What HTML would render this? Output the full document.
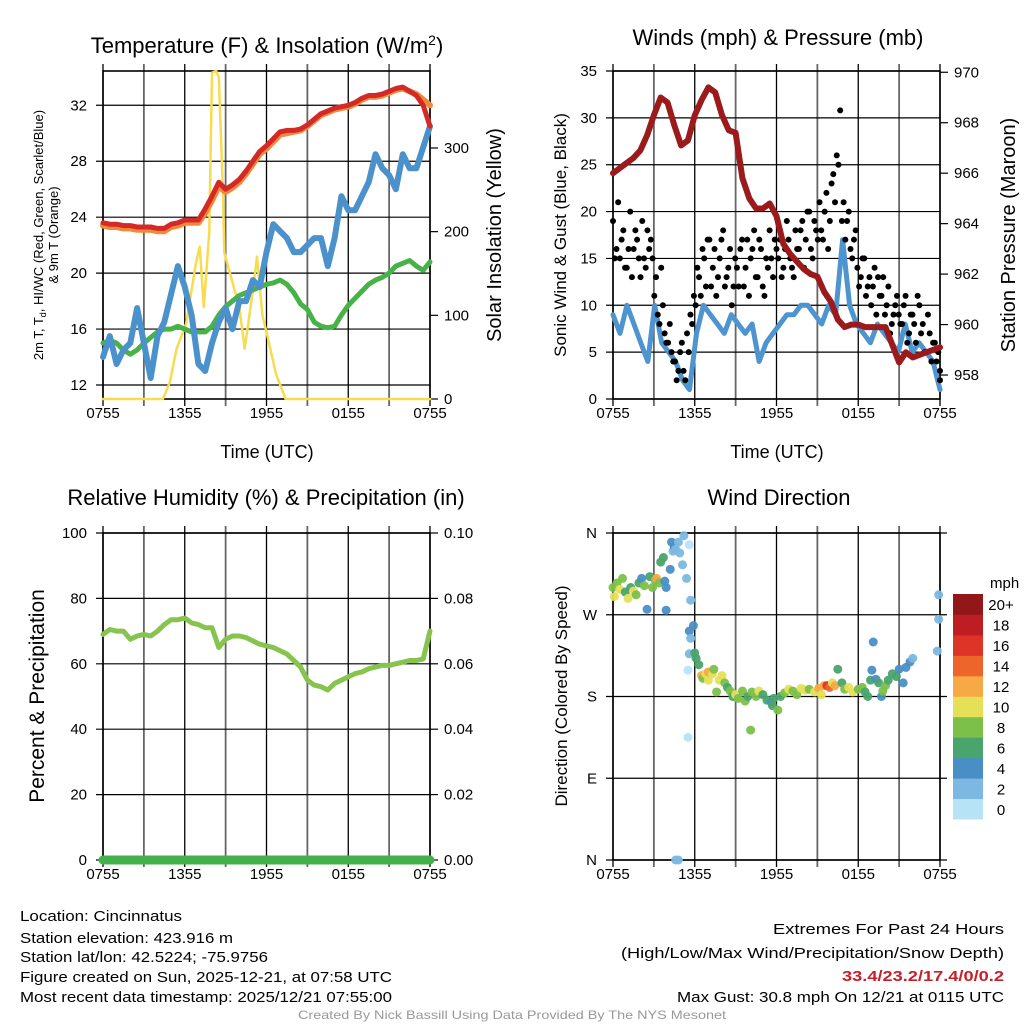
<!DOCTYPE html>
<html><head><meta charset="utf-8">
<style>
html,body{margin:0;padding:0;background:#fff;}
svg{display:block;font-family:"Liberation Sans",sans-serif;}
</style></head>
<body>
<svg id="fig" width="1024" height="1024" viewBox="0 0 1024 1024" xmlns="http://www.w3.org/2000/svg">
<rect width="1024" height="1024" fill="#fff"/>
<g id="layer"></g>
<text x="267" y="53" font-size="22" text-anchor="middle">Temperature (F) &amp; Insolation (W/m<tspan dy="-8" font-size="14">2</tspan><tspan dy="8">)</tspan></text>
<text x="778" y="45" font-size="22" text-anchor="middle">Winds (mph) &amp; Pressure (mb)</text>
<text x="266" y="505" font-size="22" text-anchor="middle">Relative Humidity (%) &amp; Precipitation (in)</text>
<text x="779" y="505" font-size="22" text-anchor="middle">Wind Direction</text>

<text transform="translate(43,235) rotate(-90)" font-size="13" text-anchor="middle">2m T, T<tspan font-size="9" dy="3">d</tspan><tspan dy="-3">, HI/WC (Red, Green, Scarlet/Blue)</tspan></text>
<text transform="translate(58,235) rotate(-90)" font-size="13" text-anchor="middle">&amp; 9m T (Orange)</text>
<text transform="translate(501,235) rotate(-90)" font-size="20" text-anchor="middle">Solar Insolation (Yellow)</text>
<text x="267" y="458" font-size="18" text-anchor="middle">Time (UTC)</text>
<text x="777" y="458" font-size="18" text-anchor="middle">Time (UTC)</text>
<text transform="translate(566,235) rotate(-90)" font-size="17" text-anchor="middle">Sonic Wind &amp; Gust (Blue, Black)</text>
<text transform="translate(1015,235) rotate(-90)" font-size="20" text-anchor="middle">Station Pressure (Maroon)</text>
<text transform="translate(44,696) rotate(-90)" font-size="21" text-anchor="middle">Percent &amp; Precipitation</text>
<text transform="translate(567,696) rotate(-90)" font-size="17" text-anchor="middle">Direction (Colored By Speed)</text>
<text x="990" y="588" font-size="15">mph</text>

<g font-size="15">
<text x="20" y="921" textLength="162" lengthAdjust="spacingAndGlyphs">Location: Cincinnatus</text>
<text x="20" y="943" textLength="213" lengthAdjust="spacingAndGlyphs">Station elevation: 423.916 m</text>
<text x="20" y="962" textLength="248" lengthAdjust="spacingAndGlyphs">Station lat/lon: 42.5224; -75.9756</text>
<text x="20" y="982" textLength="372" lengthAdjust="spacingAndGlyphs">Figure created on Sun, 2025-12-21, at 07:58 UTC</text>
<text x="20" y="1002" textLength="372" lengthAdjust="spacingAndGlyphs">Most recent data timestamp: 2025/12/21 07:55:00</text>
</g>
<g font-size="15" text-anchor="end">
<text x="1004" y="934" textLength="231" lengthAdjust="spacingAndGlyphs">Extremes For Past 24 Hours</text>
<text x="1004" y="958" textLength="383" lengthAdjust="spacingAndGlyphs">(High/Low/Max Wind/Precipitation/Snow Depth)</text>
<text x="1004" y="981" fill="#c8202a" font-weight="bold" textLength="162" lengthAdjust="spacingAndGlyphs">33.4/23.2/17.4/0/0.2</text>
<text x="1004" y="1002" textLength="327" lengthAdjust="spacingAndGlyphs">Max Gust: 30.8 mph On 12/21 at 0115 UTC</text>
</g>
<text x="512" y="1019" font-size="12" fill="#999" text-anchor="middle" textLength="428" lengthAdjust="spacingAndGlyphs">Created By Nick Bassill Using Data Provided By The NYS Mesonet</text>
</svg>
<script>
// ---- data (half-hour steps, 0..24 h from 0755 UTC) ----
const timeLabels = ["0755","1355","1955","0155","0755"];
const tempT = [23.6,23.5,23.5,23.4,23.4,23.3,23.3,23.3,23.2,23.2,23.5,23.6,23.8,23.8,23.8,24.6,25.5,26.5,26.0,26.3,26.7,27.3,28.0,28.7,29.1,29.6,30.1,30.2,30.2,30.3,30.6,31.0,31.4,31.6,31.8,31.9,32.0,32.2,32.5,32.7,32.7,32.8,33.0,33.2,33.3,33.0,32.7,32.0,30.5];
const temp9m = [23.4,23.3,23.3,23.2,23.2,23.1,23.1,23.1,23.0,23.0,23.3,23.4,23.6,23.6,23.6,24.3,25.2,26.2,25.8,26.1,26.5,27.1,27.8,28.5,28.9,29.4,29.9,30.0,30.1,30.2,30.5,30.9,31.3,31.5,31.7,31.8,31.9,32.1,32.4,32.6,32.6,32.7,32.9,33.1,33.2,33.0,32.8,32.4,32.0];
const dewT = [14,15.5,13.5,14.5,15,17.5,15,12.5,15.5,16.5,18.5,20.5,19,17,13.5,13,15,16.5,17.5,16,18,18,19.5,19,21.5,23.5,23,22.5,21.5,21.5,22,22.5,22.5,20.5,22.5,25.5,24.5,24.5,25.5,26.5,28.5,27.5,27,26,28.5,27.5,27.5,29,30.5];
const hiwcT = [15,15.2,15,14.5,14.2,14.5,15,15.4,15.8,16,16,16.2,16,15.8,15.8,15.8,16.2,17,17.6,18,18.4,18.6,18.8,19,19.2,19.3,19.5,19.2,18.6,17.8,17.4,16.5,16.2,16.1,16.2,17,17.7,18.2,18.7,19.2,19.5,19.7,20,20.5,20.7,20.9,20.5,20.2,20.8];
const solarHours = [0,4.4,4.9,5.4,6.1,6.6,6.8,7.1,7.4,7.8,8.0,8.3,8.5,8.8,8.9,9.5,10.0,10.4,11.0,11.3,11.7,12.0,12.7,13.4,24];
const solarVals  = [0,0,20,60,90,140,160,182,110,200,390,392,385,250,175,140,110,60,130,170,100,80,30,0,0];
const windSpeed = [9,7,10,8,6,4,10,6,5,4,2,1,7,10,9,8,7,9,8,7,8,4,6,7,8,9,9,10,10,9,8,10,9,17,10,8,7,6,8,7,6,5,8,5,6,5,4,1];
const gustVals = [19,16,15,18,14,20,16,17,13,15,18,17,11,9,14,7,6,5,4,3,6,2,5,8,10,13,16,12,17,14,11,15,18,13,16,12,14,16,12,17,15,18,13,16,11,14,15,17,15,13,16,17,14,18,16,19,17,20,15,18,21,17,22,19,24,26,30.8,21,19,16,17,14,13,15,12,10,14,13,11,9,12,8,10,9,8,11,7,9,6,10,8,5,7,6,4,3];
const gustVals2 = [15,21,17,14,16,13,18,15,19,14,16,15,13,8,10,6,8,4,2,5,3,7,9,11,14,11,15,17,12,16,13,17,12,14,10,15,12,17,14,11,16,13,17,12,15,18,13,16,17,14,19,15,13,16,18,14,20,16,19,17,18,20,16,23,21,25,19,17,20,15,18,12,15,11,13,12,9,11,13,10,7,9,11,8,10,6,9,8,11,7,5,9,4,6,5,2];
const pressure = [966.0,966.2,966.4,966.6,966.9,967.5,968.3,969.0,968.8,967.9,967.1,967.3,968.3,968.9,969.4,969.2,968.3,967.7,967.6,965.8,965.0,964.6,964.6,964.8,964.3,963.2,962.8,962.5,962.2,962.0,961.9,961.3,960.9,960.2,959.9,960.0,960.0,959.9,959.9,959.9,959.9,959.2,958.5,958.9,958.7,958.8,958.9,959.0,959.1];
const relHum = [69,70.5,70,70,67.5,68.5,69,68.5,70,72,73.5,73.5,74,72.5,72,71,71,65,67.5,68.5,68.5,68,67,66,65.5,65,64,63,61,59,55,53.5,53,52,54,55,56,57,57.5,58.5,59,59.5,59.5,60,60.5,61,61,61.5,70];
const precip = [0,0,0,0,0,0,0,0,0,0,0,0,0,0,0,0,0,0,0,0,0,0,0,0,0,0,0,0,0,0,0,0,0,0,0,0,0,0,0,0,0,0,0,0,0,0,0,0,0];
const dirHours = [0,0.1,0.3,0.5,0.7,0.9,1.1,1.3,1.5,1.7,1.9,2.1,2.3,2.5,2.7,2.9,3.1,3.2,3.4,3.5,3.7,3.8,3.9,3.9,4.2,4.3,4.4,4.5,4.6,4.8,4.9,5.1,5.2,5.4,5.6,4.6,4.8,5.5,5.5,5.6,5.7,5.6,5.9,5.7,6,6.1,6.3,6.5,6.6,6.8,7,7,7.3,7.4,7.6,7.8,8,8.2,8.4,8.6,8.8,9,9.2,9.5,9.7,9.9,10.1,10.2,10.5,10.7,11,11.3,11.6,11.7,11.8,12.1,12.3,12.6,12.9,13.2,13.5,13.8,14.1,14.4,14.8,15.1,15.3,15.5,15.7,15.9,16.1,16.3,16.5,16.8,17,17.3,17.6,18,18.3,18.5,18.7,18.9,19,19.1,19.3,19.5,19.7,19.8,20,20.2,20.5,20.8,21,21.3,21.5,21.8,22,23.8,23.9,23.9];
const dirDeg = [300,290,305,298,310,295,288,300,296,292,305,310,302,276,312,300,308,310,305,328,333,307,300,275,320,350,340,345,342,350,338,325,357,310,347,0,0,135,209,227,286,252,258,244,228,222,215,203,200,205,198,207,205,210,185,198,203,195,190,186,180,182,178,186,175,180,143,185,180,186,182,176,174,170,178,165,180,184,188,186,182,189,187,188,185,189,182,192,192,190,195,192,210,195,188,190,185,188,190,185,180,198,209,240,199,195,180,186,192,198,205,202,210,195,212,218,222,230,265,292];
const dirSpeed = [8,10,8,10,8,7,10,6,10,8,7,4,8,4,6,8,9,13,8,7,6,4,4,4,4,4,3,4,2,2,2,2,2,2,1,2,3,1,1,2,3,4,4,2,6,6,6,12,9,10,11,13,10,8,8,10,10,8,6,8,7,10,8,8,8,6,8,9,8,10,6,6,5,7,6,8,6,8,10,9,8,10,10,9,10,12,10,12,16,14,10,12,6,7,8,10,10,8,8,6,6,6,4,4,4,6,4,8,8,6,7,6,4,4,4,4,3,2,2,2];
const speedColors = ["#b7e3f7","#7cb8e2","#4a8ec6","#4aa46d","#7cc04a","#e6df58","#f6a944","#ee652c","#dd3427","#bf1d24","#921719"];
const speedLabels = ["0","2","4","6","8","10","12","14","16","18","20+"];

const NS = "http://www.w3.org/2000/svg";
const layer = document.getElementById("layer");
function mk(tag, attrs, parent){
  const e = document.createElementNS(NS, tag);
  for (const k in attrs) e.setAttribute(k, attrs[k]);
  (parent||layer).appendChild(e);
  return e;
}
function lin(d0,d1,r0,r1){ return v => r0 + (v-d0)/(d1-d0)*(r1-r0); }

function panelFrame(name, x0, x1, y0, y1, yScale, hTicks, yLabels, rScale, rTicks, rLabels){
  const g = mk("g", {});
  
  
  const xs = lin(0,24,x0,x1);
  for (let h=0; h<=24; h+=3){
    const x = xs(h);
    const l = mk("line",{x1:x,x2:x,y1:y0-7,y2:y1+7,stroke:(h%6===0)?"#000":"#666","stroke-width":(h%6===0)?1.3:1.8},g);
    
    
  }
  for (let i=0;i<hTicks.length;i++){
    const y = yScale(hTicks[i]);
    const l = mk("line",{x1:x0-7,x2:x1+(rScale?0:7),y1:y,y2:y,stroke:"#000","stroke-width":1.2},g);
    
    
    const t = mk("text",{x:x0-16,y:y+5,"font-size":15,"text-anchor":"end"},g);
    t.textContent = yLabels[i];
    
    
  }
  if (rScale){
    for (let i=0;i<rTicks.length;i++){
      const y = rScale(rTicks[i]);
      mk("line",{x1:x1,x2:x1+8,y1:y,y2:y,stroke:"#000","stroke-width":1.2},g);
      const t = mk("text",{x:x1+14,y:y+5,"font-size":15},g);
      t.textContent = rLabels[i];
      
      
    }
  }
  for (let i=0;i<timeLabels.length;i++){
    const t = mk("text",{x:xs(i*6),y:y1+19,"font-size":15,"text-anchor":"middle"},g);
    t.textContent = timeLabels[i];
    
    
  }
  const f = mk("rect",{x:x0,y:y0,width:x1-x0,height:y1-y0,fill:"none",stroke:"#000","stroke-width":1.6},g);
  
  
  return xs;
}
function seriesLine(name, vals, xs, ys, color, w, hours){
  let d = "";
  vals.forEach((v,i)=>{ const h = hours ? hours[i] : i*24/(vals.length-1); d += (i?"L":"M")+xs(h).toFixed(1)+","+ys(v).toFixed(1); });
  const p = mk("path",{d:d,fill:"none",stroke:color,"stroke-width":w,"stroke-linejoin":"round","stroke-linecap":"round"});
  
  
}

// Panel 1
{
  const ys = lin(11,34.45,399,71);
  const rs = lin(0,392,399,71);
  const xs = panelFrame("temperature",103,430,71,399,ys,[12,16,20,24,28,32],["12","16","20","24","28","32"],rs,[0,100,200,300],["0","100","200","300"]);
  seriesLine("solar-insolation-line", solarVals, xs, rs, "#f7dc4f", 2.5, solarHours);
  seriesLine("hiwc-line", hiwcT, xs, ys, "#47b248", 5);
  seriesLine("dewpoint-line", dewT, xs, ys, "#4b91cc", 6);
  seriesLine("temp-9m-line", temp9m, xs, ys, "#f08a3a", 6);
  seriesLine("temp-2m-line", tempT, xs, ys, "#d42a27", 5);
}
// Panel 2
{
  const ys = lin(0,35,399,71);
  const rs = lin(957.05,970.05,399,71);
  const xs = panelFrame("wind",613,940,71,399,ys,[0,5,10,15,20,25,30,35],["0","5","10","15","20","25","30","35"],rs,[958,960,962,964,966,968,970],["958","960","962","964","966","968","970"]);
  seriesLine("wind-speed-line", windSpeed, xs, ys, "#4e95d0", 5);
  gustVals.forEach((v,i)=>{
    const c = mk("circle",{cx:xs(i*24/(gustVals.length-1)),cy:ys(v),r:3,fill:"#000"});
    
    
  });
  gustVals2.forEach((v,i)=>{
    const c = mk("circle",{cx:xs(Math.min(24,(i+0.5)*24/(gustVals2.length-1))),cy:ys(v),r:3,fill:"#000"});
    
    
  });
  seriesLine("pressure-line", pressure, xs, rs, "#9b1a1c", 6);
}
// Panel 3
{
  const ys = lin(0,100,860,533);
  const rs = lin(0,0.1,860,533);
  const xs = panelFrame("humidity",103,430,533,860,ys,[0,20,40,60,80,100],["0","20","40","60","80","100"],rs,[0,0.02,0.04,0.06,0.08,0.1],["0.00","0.02","0.04","0.06","0.08","0.10"]);
  seriesLine("relative-humidity-line", relHum, xs, ys, "#86c44e", 5);
  seriesLine("precipitation-line", precip, xs, rs, "#43b14a", 9);
}
// Panel 4
{
  const ys = lin(0,360,860,533);
  const xs = panelFrame("direction",613,940,533,860,ys,[0,90,180,270,360],["N","E","S","W","N"],null);
  dirDeg.forEach((v,i)=>{
    const ci = Math.min(10, Math.floor(dirSpeed[i]/2));
    const c = mk("circle",{cx:xs(dirHours[i]),cy:ys(v),r:4.5,fill:speedColors[ci],"fill-opacity":0.95});
    
    
  });
  const cb = mk("g",{});
  
  
  const bh = 225/speedColors.length;
  speedColors.forEach((col,i)=>{
    const y = 819 - (i+1)*bh;
    const r = mk("rect",{x:953,y:y,width:30,height:bh+0.5,fill:col},cb);
    
    
    const t = mk("text",{x:1001,y:y+bh/2+6,"font-size":15,"text-anchor":"middle"},cb);
    t.textContent = speedLabels[i];
    
    
  });
}
</script>
</body></html>
